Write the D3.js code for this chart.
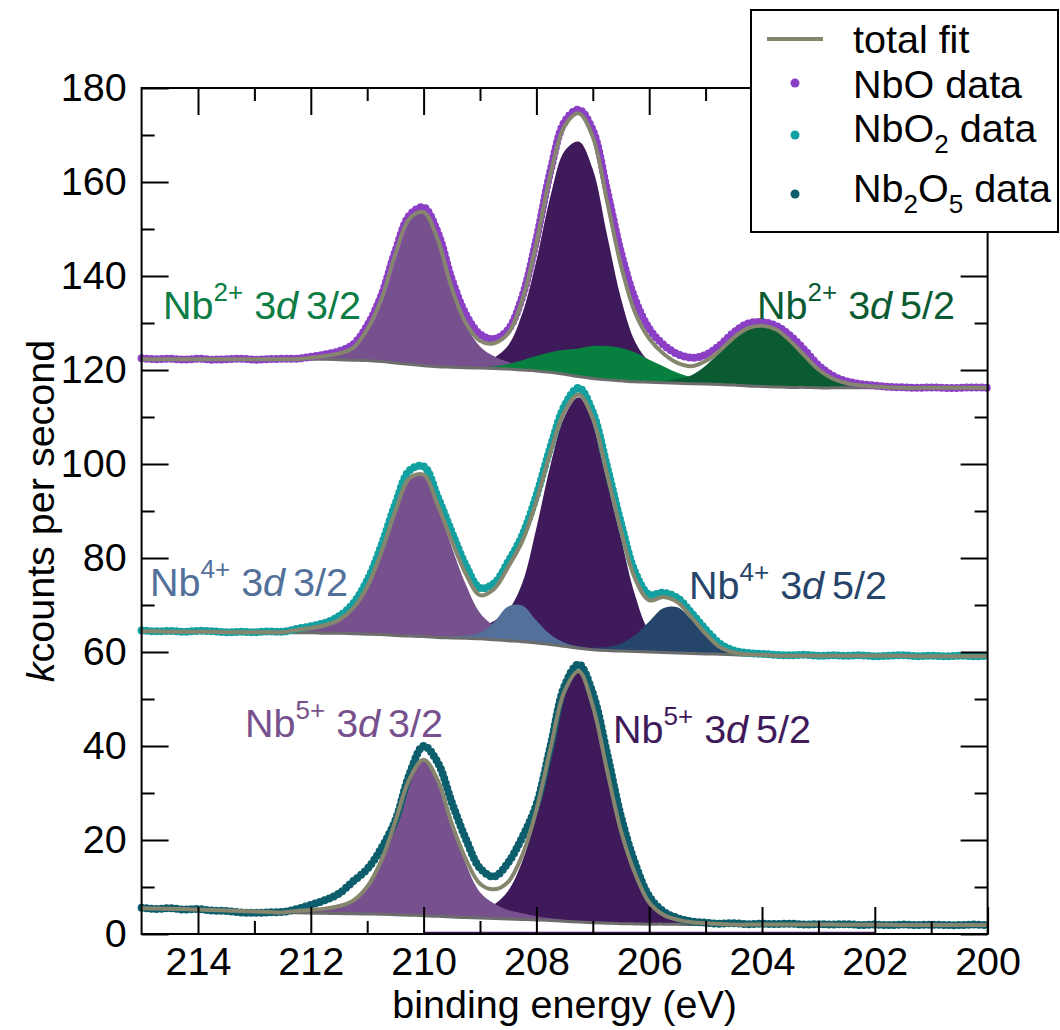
<!DOCTYPE html>
<html>
<head>
<meta charset="UTF-8">
<title>Nb 3d XPS</title>
<script src="https://cdn.jsdelivr.net/npm/d3@7"></script>
<style>
body { margin: 0; background: #fff; }
text { font-family: "Liberation Sans", Arial, Helvetica, sans-serif; }
</style>
</head>
<body>
<svg id="chart" width="1060" height="1030"></svg>
<script>
// binding energy grid, 215 -> 200 eV, 0.25 eV steps (one row below = 1 eV)
var energy = d3.range(215, 199.9, -0.25);

// ---- NbO (top) ----
var nboData = [
  122.5, 122.3, 122.4, 122.2,
  122.4, 122.2, 122.3, 122.4,
  122.2, 122.3, 122.4, 122.4,
  122.8, 123.3, 124.0, 125.4,
  129.4, 135.8, 145.3, 152.9,
  154.6, 149.3, 139.3, 131.8,
  127.6, 126.6, 128.6, 135.6,
  147.8, 162.4, 172.8, 175.4,
  171.0, 158.4, 145.0, 135.0,
  128.8, 125.4, 123.4, 122.6,
  123.2, 125.2, 128.0, 129.9,
  130.2, 129.4, 127.3, 124.3,
  121.0, 118.8, 117.6, 117.0,
  116.7, 116.4, 116.3, 116.2,
  116.3, 116.2, 116.2, 116.3,
  116.2];
var nboBg = [
  122.3, 122.3, 122.3, 122.3,
  122.3, 122.3, 122.3, 122.3,
  122.3, 122.3, 122.3, 122.3,
  122.3, 122.3, 122.2, 122.1,
  122.0, 121.8, 121.5, 121.2,
  120.9, 120.7, 120.6, 120.5,
  120.4, 120.3, 120.2, 120.0,
  119.8, 119.5, 119.1, 118.6,
  118.2, 117.9, 117.7, 117.5,
  117.4, 117.3, 117.2, 117.1,
  117.0, 116.9, 116.8, 116.6,
  116.5, 116.4, 116.3, 116.3,
  116.2, 116.2, 116.2, 116.2,
  116.2, 116.2, 116.2, 116.2,
  116.2, 116.2, 116.2, 116.2,
  116.2];
// components: counts above background, starting at "from" eV
var nboP52 = {from: 209.25, values: [0.3, 1.0, 2.3, 5.0, 12.0, 23.5, 37.5, 47.5, 50.0, 44.5, 31.0, 17.5, 8.5, 4.3, 2.3, 1.2, 0.6, 0.3]};
var nboP32 = {from: 212.0, values: [0.3, 0.7, 1.3, 2.6, 6.6, 13.2, 23.1, 31.0, 32.7, 27.1, 16.8, 9.2, 4.6, 2.6, 1.5, 0.8, 0.5, 0.3, 0.1]};
var nboNb2P32 = {from: 209.0, values: [0.2, 0.5, 1.1, 2.1, 3.2, 4.3, 5.2, 6.0, 6.9, 7.2, 7.0, 6.2, 4.8, 3.5, 2.2, 1.3, 0.7, 0.4, 0.2, 0.1]};
var nboNb2P52 = {from: 206.0, values: [0.2, 0.4, 0.9, 1.8, 3.9, 6.8, 9.9, 12.2, 12.9, 12.2, 9.9, 6.8, 3.9, 2.0, 1.0, 0.5, 0.3, 0.1]};

// ---- NbO2 (middle) ----
var nbo2Data = [
  64.6, 64.4, 64.5, 64.3,
  64.5, 64.4, 64.2, 64.3,
  64.2, 64.4, 64.3, 64.9,
  65.5, 66.2, 67.6, 70.3,
  75.2, 82.6, 91.5, 98.6,
  99.5, 93.0, 85.5, 78.4,
  73.6, 74.6, 79.2, 84.8,
  93.3, 103.6, 112.4, 116.2,
  111.0, 99.6, 87.4, 77.0,
  72.2, 72.6, 71.5, 68.3,
  64.8, 61.8, 60.3, 59.8,
  59.6, 59.4, 59.3, 59.4,
  59.2, 59.3, 59.2, 59.3,
  59.1, 59.2, 59.3, 59.1,
  59.2, 59.1, 59.2, 59.1,
  59.2];
var nbo2Bg = [
  64.4, 64.4, 64.3, 64.3,
  64.3, 64.3, 64.2, 64.2,
  64.2, 64.2, 64.2, 64.1,
  64.1, 64.0, 64.0, 63.9,
  63.8, 63.7, 63.5, 63.4,
  63.3, 63.1, 63.0, 62.9,
  62.8, 62.6, 62.4, 62.2,
  61.9, 61.6, 61.2, 60.8,
  60.5, 60.3, 60.2, 60.1,
  60.0, 59.9, 59.8, 59.7,
  59.6, 59.5, 59.4, 59.3,
  59.3, 59.2, 59.2, 59.2,
  59.2, 59.2, 59.2, 59.2,
  59.2, 59.2, 59.2, 59.1,
  59.1, 59.1, 59.1, 59.1,
  59.1];
var nbo2P52 = {from: 209.5, values: [1.0, 1.7, 2.5, 4.0, 6.5, 12.5, 24.5, 38.2, 48.9, 53.4, 48.5, 37.0, 24.0, 12.0, 4.5, 2.4, 1.1, 0.5, 0.2]};
var nbo2P32 = {from: 212.25, values: [0.6, 1.0, 1.7, 2.8, 5.4, 10.1, 17.5, 26.5, 33.6, 34.4, 28.2, 19.3, 11.4, 5.5, 3.0, 1.9, 1.2, 0.9, 0.6, 0.4, 0.25, 0.1]};
var nbo2Nb4P32 = {from: 209.5, values: [0.3, 0.6, 1.3, 3.8, 7.3, 7.7, 4.8, 2.1, 0.75, 0.35, 0.2]};
var nbo2Nb4P52 = {from: 207.0, values: [0.4, 0.75, 1.6, 3.5, 6.5, 9.4, 9.7, 7.2, 4.1, 1.6, 0.5, 0.2, 0.1]};

// ---- Nb2O5 (bottom) ----
var nb2o5Data = [
  5.6, 5.3, 5.5, 5.2,
  5.3, 5.0, 4.9, 4.6,
  4.5, 4.6, 4.7, 5.3,
  6.2, 7.2, 8.6, 11.2,
  13.8, 18.2, 24.2, 34.0,
  40.0, 36.5, 28.0, 20.2,
  14.0, 12.2, 15.2, 20.6,
  27.5, 40.0, 52.8, 57.4,
  51.2, 38.6, 25.0, 15.0,
  8.0, 4.8, 3.4, 2.7,
  2.4, 2.2, 2.3, 2.1,
  2.2, 2.1, 2.2, 2.0,
  2.1, 2.0, 2.1, 1.9,
  2.0, 1.9, 2.0, 1.9,
  2.0, 1.9, 1.9, 2.0,
  1.9];
var nb2o5Bg = [
  5.5, 5.4, 5.35, 5.3,
  5.2, 5.1, 5.0, 4.9,
  4.8, 4.7, 4.6, 4.5,
  4.45, 4.4, 4.35, 4.3,
  4.25, 4.2, 4.1, 4.0,
  3.9, 3.75, 3.6, 3.5,
  3.4, 3.3, 3.2, 3.1,
  3.0, 2.85, 2.7, 2.55,
  2.4, 2.3, 2.2, 2.15,
  2.1, 2.1, 2.05, 2.0,
  2.0, 2.0, 2.0, 2.0,
  2.0, 2.0, 2.0, 2.0,
  2.0, 2.0, 1.95, 1.95,
  1.95, 1.95, 1.9, 1.9,
  1.9, 1.9, 1.9, 1.9,
  1.9];
var nb2o5P52 = {from: 209.25, values: [1.0, 1.8, 3.0, 6.0, 12.4, 22.6, 36.1, 48.7, 53.2, 46.1, 32.7, 19.7, 10.7, 4.6, 2.0, 1.0, 0.5, 0.3, 0.15]};
var nb2o5P32 = {from: 212.25, values: [0.4, 0.7, 1.0, 1.6, 2.8, 5.8, 11.4, 19.9, 29.0, 33.2, 29.0, 19.9, 11.4, 5.5, 3.2, 1.9, 1.3, 0.8, 0.5, 0.3, 0.15]};
// faint strip sitting on the zero line
var nb2o5Floor = [[210.0, 0.5], [202.0, 0.5]];

// axis ticks
var xMajor = [214, 212, 210, 208, 206, 204, 202, 200];
var xMinor = [213, 211, 209, 207, 205, 203, 201];
var yMajor = [0, 20, 40, 60, 80, 100, 120, 140, 160, 180];
var yMinor = [10, 30, 50, 70, 90, 110, 130, 150, 170];

// peak labels
var peakLabels = [
  {ion: "2+", tail: "3/2", x: 163, y: 319, color: "#0b7d45"},
  {ion: "2+", tail: "5/2", x: 757, y: 319, color: "#0a5a32"},
  {ion: "4+", tail: "3/2", x: 150, y: 596, color: "#52709a"},
  {ion: "4+", tail: "5/2", x: 689, y: 599, color: "#27456a"},
  {ion: "5+", tail: "3/2", x: 245, y: 737, color: "#77518d"},
  {ion: "5+", tail: "5/2", x: 613, y: 743, color: "#3f1a5b"}
];

var FS = 39.5, SUB = 26;
var fitColor = "#86866f",
    bgColor = "#6c6c6c",
    lightPurple = "#77518d",
    darkPurple = "#3f1a5b";

var spectra = [
  {name: "NbO", data: nboData, bg: nboBg, color: "#8a3fc4",
   comps: [[nboP52, darkPurple], [nboP32, lightPurple], [nboNb2P32, "#07803f"], [nboNb2P52, "#0a5b31"]]},
  {name: "NbO2", data: nbo2Data, bg: nbo2Bg, color: "#13a0a0",
   comps: [[nbo2P52, darkPurple], [nbo2P32, lightPurple], [nbo2Nb4P32, "#52709a"], [nbo2Nb4P52, "#26456a"]]},
  {name: "Nb2O5", data: nb2o5Data, bg: nb2o5Bg, color: "#0c5e6c",
   comps: [[nb2o5P52, darkPurple], [nb2o5P32, lightPurple]]}
];

var svg = d3.select("#chart");
var x = d3.scaleLinear().domain([215, 200]).range([141.6, 987.6]);
var y = d3.scaleLinear().domain([0, 180]).range([934, 88]);

var idx = function(e) { return Math.round((215 - e) / 0.25); };

var plot = svg.append("g");

// faint strip at zero
plot.append("path")
  .datum(nb2o5Floor)
  .attr("fill", darkPurple)
  .attr("d", d3.area().x(function(d){ return x(d[0]); }).y0(y(0)).y1(function(d){ return y(d[1]); }));

spectra.forEach(function(s) {
  // component fills sit on the background
  s.comps.forEach(function(c) {
    var comp = c[0], start = idx(comp.from);
    var pts = comp.values.map(function(v, i) {
      return {e: energy[start + i], lo: s.bg[start + i], hi: s.bg[start + i] + v};
    });
    plot.append("path")
      .datum(pts)
      .attr("fill", c[1])
      .attr("d", d3.area().curve(d3.curveCatmullRom)
        .x(function(d){ return x(d.e); })
        .y0(function(d){ return y(d.lo); })
        .y1(function(d){ return y(d.hi); }));
  });

  // total fit = background + all components
  var fit = s.bg.slice();
  s.comps.forEach(function(c) {
    var start = idx(c[0].from);
    c[0].values.forEach(function(v, i){ fit[start + i] += v; });
  });

  var line = d3.line().curve(d3.curveCatmullRom)
    .x(function(d, i){ return x(energy[i]); })
    .y(function(d){ return y(d); });

  plot.append("path").datum(s.bg)
    .attr("fill", "none").attr("stroke", bgColor).attr("stroke-width", 3)
    .attr("d", line);

  // data drawn as a chain of dots
  plot.append("path").datum(s.data)
    .attr("fill", "none").attr("stroke", s.color).attr("stroke-width", 8)
    .attr("stroke-linecap", "round").attr("stroke-dasharray", "0 5")
    .attr("d", line);

  plot.append("path").datum(fit)
    .attr("fill", "none").attr("stroke", fitColor).attr("stroke-width", 4)
    .attr("d", line);
});

// axes, ticks pointing inward on all four sides
var styleAxis = function(g) {
  g.select(".domain").remove();
  g.selectAll(".tick line").attr("stroke", "black").attr("stroke-width", 2);
  g.selectAll(".tick text").attr("font-size", FS).attr("fill", "black")
    .attr("font-family", "'Liberation Sans', Arial, Helvetica, sans-serif");
};
var fmt = d3.format("d");

svg.append("g").attr("transform", "translate(0," + y(0) + ")")
  .call(d3.axisBottom(x).tickValues(xMajor).tickSize(-27).tickPadding(13).tickFormat(fmt)).call(styleAxis);
svg.append("g").attr("transform", "translate(0," + y(0) + ")")
  .call(d3.axisBottom(x).tickValues(xMinor).tickSize(-13).tickFormat("")).call(styleAxis);
svg.append("g").attr("transform", "translate(0," + y(180) + ")")
  .call(d3.axisTop(x).tickValues(xMajor).tickSize(-27).tickFormat("")).call(styleAxis);
svg.append("g").attr("transform", "translate(0," + y(180) + ")")
  .call(d3.axisTop(x).tickValues(xMinor).tickSize(-13).tickFormat("")).call(styleAxis);
svg.append("g").attr("transform", "translate(" + x(215) + ",0)")
  .call(d3.axisLeft(y).tickValues(yMajor).tickSize(-27).tickPadding(15).tickFormat(fmt)).call(styleAxis);
svg.append("g").attr("transform", "translate(" + x(215) + ",0)")
  .call(d3.axisLeft(y).tickValues(yMinor).tickSize(-13).tickFormat("")).call(styleAxis);
svg.append("g").attr("transform", "translate(" + x(200) + ",0)")
  .call(d3.axisRight(y).tickValues(yMajor).tickSize(-27).tickFormat("")).call(styleAxis);
svg.append("g").attr("transform", "translate(" + x(200) + ",0)")
  .call(d3.axisRight(y).tickValues(yMinor).tickSize(-13).tickFormat("")).call(styleAxis);

svg.append("rect")
  .attr("x", x(215)).attr("y", y(180))
  .attr("width", x(200) - x(215)).attr("height", y(0) - y(180))
  .attr("fill", "none").attr("stroke", "black").attr("stroke-width", 2);

// axis titles
svg.append("text").attr("x", (x(215) + x(200)) / 2).attr("y", 1018)
  .attr("text-anchor", "middle").attr("font-size", FS)
  .text("binding energy (eV)");
var yt = svg.append("text")
  .attr("transform", "translate(54," + (y(0) + y(180)) / 2 + ") rotate(-90)")
  .attr("text-anchor", "middle").attr("font-size", FS);
yt.append("tspan").attr("font-style", "italic").text("k");
yt.append("tspan").text("counts per second");

// peak labels
peakLabels.forEach(function(l) {
  var t = svg.append("text").attr("x", l.x).attr("y", l.y)
    .attr("fill", l.color).attr("font-size", FS);
  t.append("tspan").text("Nb");
  t.append("tspan").attr("font-size", SUB).attr("dy", -18).text(l.ion);
  t.append("tspan").attr("dy", 18).text(" 3");
  t.append("tspan").attr("font-style", "italic").text("d");
  t.append("tspan").text("\u2009" + l.tail);
});

// legend
var lg = svg.append("g");
lg.append("rect").attr("x", 751).attr("y", 10).attr("width", 307).attr("height", 222)
  .attr("fill", "white").attr("stroke", "black").attr("stroke-width", 2);
lg.append("line").attr("x1", 767).attr("x2", 823).attr("y1", 39).attr("y2", 39)
  .attr("stroke", fitColor).attr("stroke-width", 4);
lg.append("text").attr("x", 853).attr("y", 53).attr("font-size", FS).text("total fit");

var legendRows = [
  {parts: [["NbO", 0], [" data", 0]], dotY: 83, textY: 98},
  {parts: [["NbO", 0], ["2", 1], [" data", 0]], dotY: 135, textY: 142},
  {parts: [["Nb", 0], ["2", 1], ["O", 0], ["5", 1], [" data", 0]], dotY: 194, textY: 202}
];
legendRows.forEach(function(r, i) {
  lg.append("circle").attr("cx", 795).attr("cy", r.dotY).attr("r", 4.5)
    .attr("fill", spectra[i].color);
  var t = lg.append("text").attr("x", 853).attr("y", r.textY).attr("font-size", FS);
  var low = 0;
  r.parts.forEach(function(p) {
    var shift = p[1] ? 11 : 0;
    t.append("tspan").attr("font-size", p[1] ? SUB : FS)
      .attr("dy", shift - low).text(p[0]);
    low = shift;
  });
});
</script>
</body>
</html>
